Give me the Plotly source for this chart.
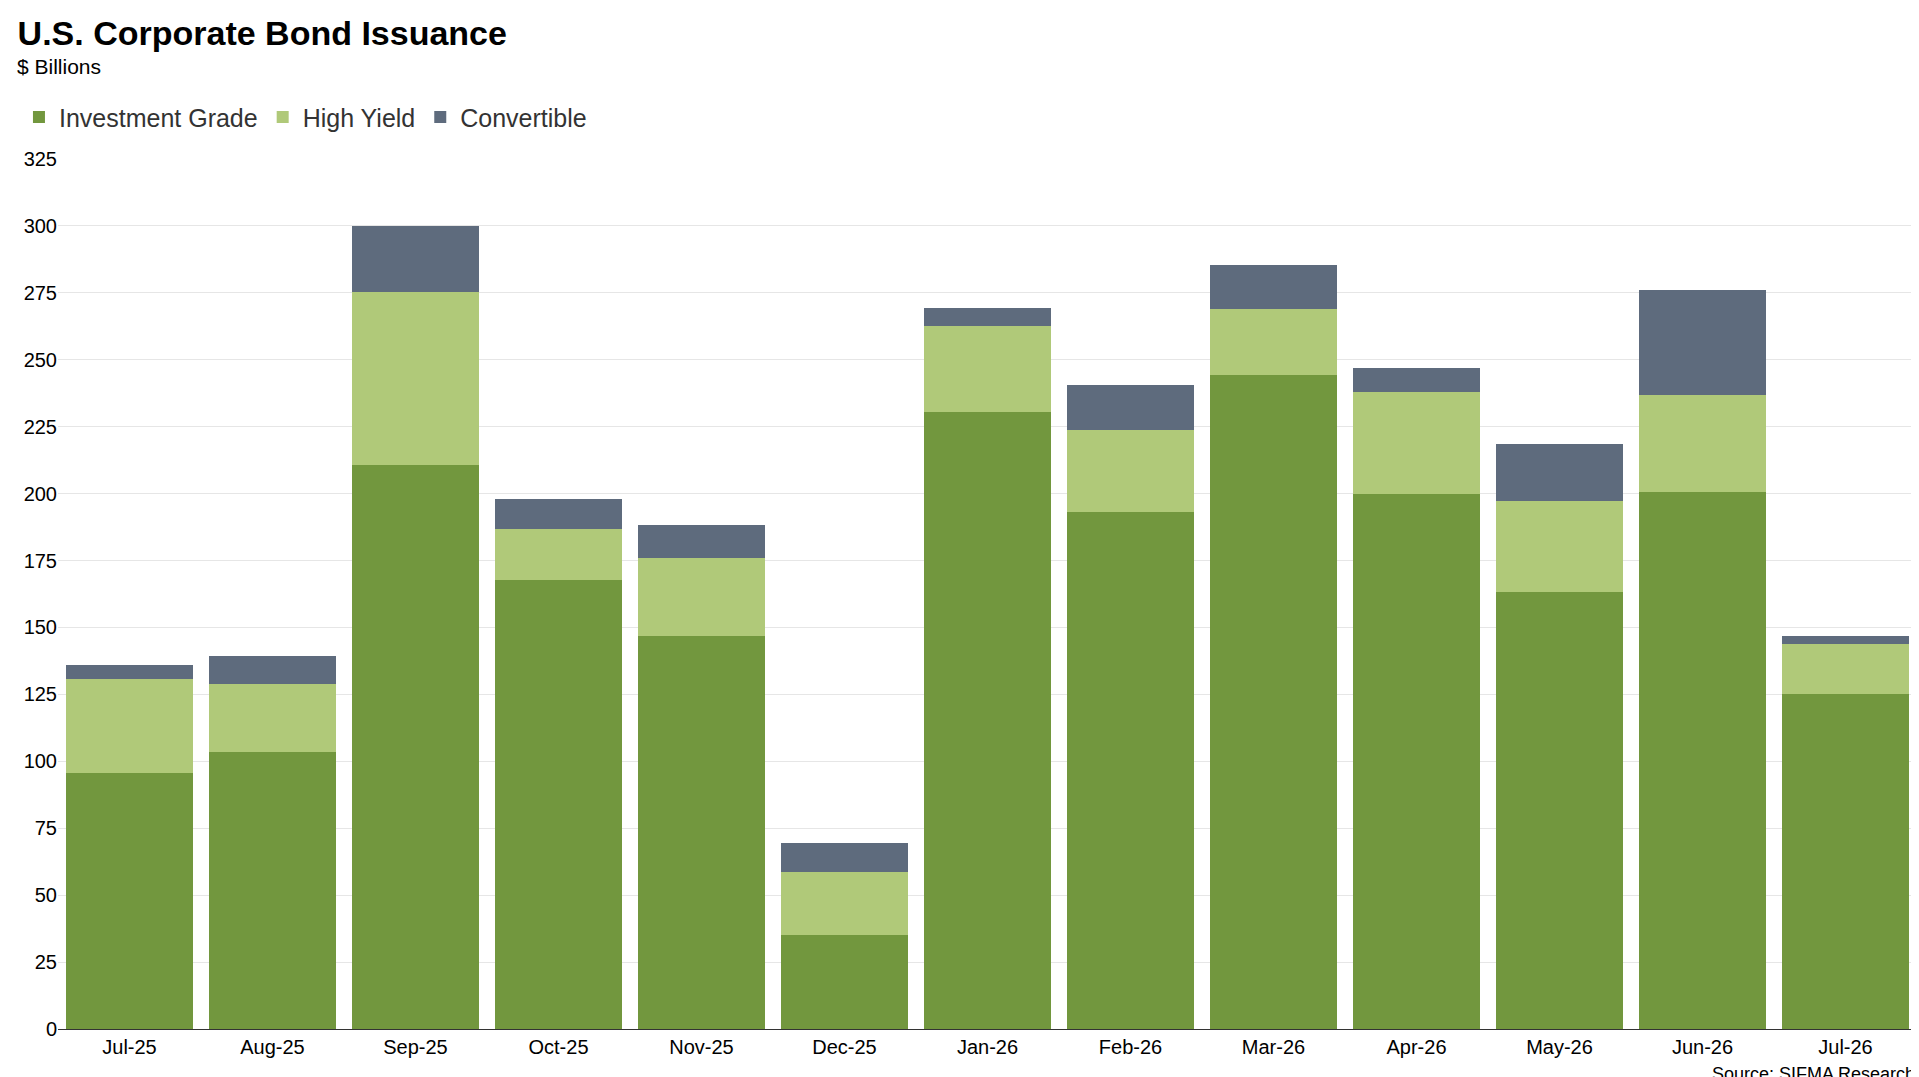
import plotly.graph_objects as go

months = ["Jul-25", "Aug-25", "Sep-25", "Oct-25", "Nov-25", "Dec-25", "Jan-26",
          "Feb-26", "Mar-26", "Apr-26", "May-26", "Jun-26", "Jul-26"]
investment_grade = [95.6, 103.3, 210.8, 167.8, 146.8, 35.2, 230.5, 193.0, 244.2, 199.8, 163.2, 200.7, 125.3]
high_yield = [35.2, 25.6, 64.5, 18.8, 29.2, 23.3, 32.0, 30.6, 24.7, 38.0, 33.9, 36.2, 18.7]
convertible = [5.0, 10.6, 24.7, 11.4, 12.4, 11.0, 6.8, 16.9, 16.4, 9.1, 21.5, 39.3, 2.8]

fig = go.Figure()
fig.add_bar(x=months, y=investment_grade, name="Investment Grade", marker_color="#72973e")
fig.add_bar(x=months, y=high_yield, name="High Yield", marker_color="#b0c979")
fig.add_bar(x=months, y=convertible, name="Convertible", marker_color="#5e6b7d")
fig.update_traces(marker_line_width=0, hoverinfo="x+y+name")

fig.update_layout(
    barmode="stack",
    bargap=0.11,
    width=1919, height=1077,
    paper_bgcolor="white", plot_bgcolor="white",
    font=dict(family="Arial, Liberation Sans, sans-serif", color="#000"),
    margin=dict(l=50, r=10, t=151, b=56, autoexpand=False),
    title=dict(text="<b>U.S. Corporate Bond Issuance</b>", x=0.005, xanchor="left",
               y=0.977, yanchor="middle", font=dict(size=34)),
    legend=dict(orientation="h", x=-0.021, xanchor="left", y=1.048, yanchor="middle",
                font=dict(size=25, color="#333"), itemsizing="constant",
                traceorder="normal"),
    annotations=[
        dict(text="$ Billions", xref="paper", yref="paper", x=-0.023, y=1.106,
             xanchor="left", yanchor="middle", showarrow=False, font=dict(size=21)),
        dict(text="Source: SIFMA Research", xref="paper", yref="paper", x=1, y=-0.052,
             xanchor="right", yanchor="middle", showarrow=False, font=dict(size=18)),
    ],
    xaxis=dict(showline=True, linecolor="#333", ticks="", tickfont=dict(size=20)),
    yaxis=dict(range=[0, 325], dtick=25, tick0=0, gridcolor="#e6e6e6",
               tickfont=dict(size=20), zeroline=False),
)
fig.write_html("out.html")
